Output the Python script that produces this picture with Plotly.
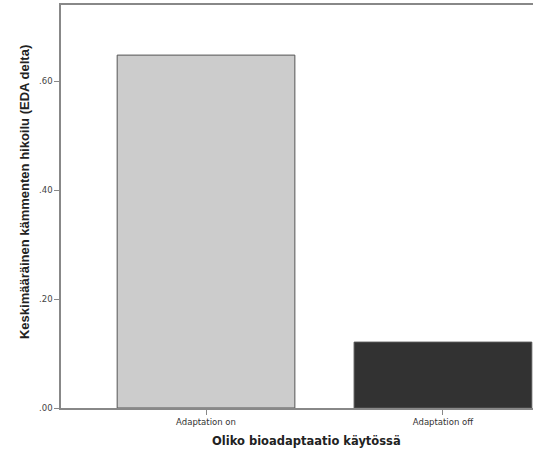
import plotly.graph_objects as go

categories = ["Adaptation on", "Adaptation off"]
values = [0.648, 0.121]
colors = ["#cccccc", "#323232"]
y_ticks = [0.0, 0.2, 0.4, 0.6]
y_tick_labels = [".00", ".20", ".40", ".60"]

fig = go.Figure()
fig.add_trace(go.Bar(
    x=[0, 1], y=values, width=0.75,
    marker=dict(color=colors, line=dict(color="#555555", width=1)),
))

fig.update_layout(
    width=535, height=453,
    margin=dict(l=61, r=2, t=5, b=45),
    paper_bgcolor="white", plot_bgcolor="white",
    showlegend=False,
    font=dict(family="DejaVu Sans", size=9, color="#333333"),
    xaxis=dict(
        range=[-0.612, 1.38], tickvals=[0, 1], ticktext=categories,
        showline=True, linecolor="#888888", linewidth=1.5, mirror=True,
        ticks="outside", ticklen=5, tickcolor="#888888", showgrid=False,
        zeroline=False, tickfont=dict(size=8.5, color="#333333"),
    ),
    yaxis=dict(
        range=[0, 0.74], tickvals=y_ticks, ticktext=y_tick_labels,
        showline=True, linecolor="#888888", linewidth=1.5,
        ticks="outside", ticklen=5, tickcolor="#888888", showgrid=False,
        zeroline=False, tickfont=dict(size=8.5, color="#444444"),
    ),
    annotations=[
        dict(text="<b>Keskimääräinen kämmenten hikoilu (EDA delta)</b>", textangle=-90,
             xref="paper", yref="paper", x=-0.077, y=0.535, xanchor="center", yanchor="middle",
             showarrow=False, font=dict(family="Liberation Sans", size=13, color="#222222"),
             ),
        dict(text="<b>Oliko bioadaptaatio käytössä</b>",
             xref="paper", yref="paper", x=0.52, y=-0.082, xanchor="center", yanchor="middle",
             showarrow=False, font=dict(family="DejaVu Sans", size=11.5, color="#222222")),
    ],
)

fig.write_html("out.html", config={"displayModeBar": False},
               post_script="document.body.style.margin='0';document.body.style.overflow='hidden';")
